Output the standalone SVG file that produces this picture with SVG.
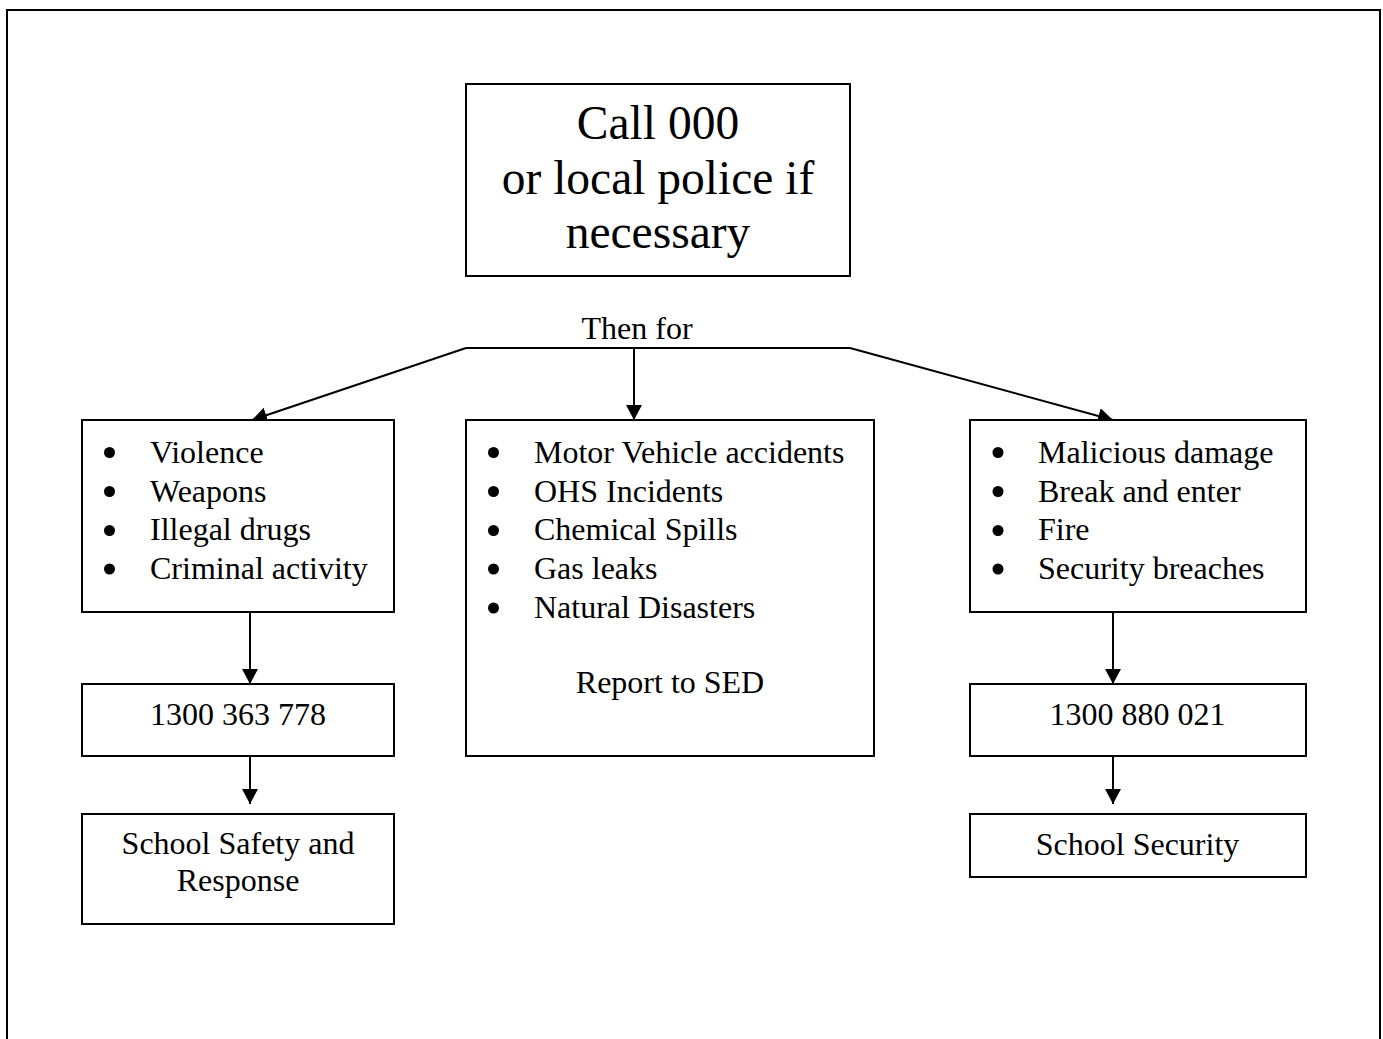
<svg xmlns="http://www.w3.org/2000/svg" width="1383" height="1039" viewBox="0 0 1383 1039">
<style>
  .box { fill: #fff; stroke: #000; stroke-width: 2; }
  .t { font-family: "Liberation Serif", "Times New Roman", serif; font-size: 32px; fill: #000; }
  .big { font-size: 47.5px; }
  .c { text-anchor: middle; }
  .conn { stroke: #000; stroke-width: 2; fill: none; }
  .b { fill: #000; }
</style>
<defs>
  <marker id="ah" markerUnits="userSpaceOnUse" markerWidth="17" markerHeight="17" refX="15" refY="8" orient="auto" viewBox="0 0 17 17">
    <path d="M0,0 L15,8 L0,16 z" fill="#000"/>
  </marker>
</defs>
<rect width="1383" height="1039" fill="#fff"/>
<rect x="7" y="10" width="1373" height="1040" fill="none" stroke="#000" stroke-width="2"/>

<g id="connectors">
  <polyline class="conn" points="466,348 850,348"/>
  <line class="conn" x1="466" y1="348" x2="252" y2="420" marker-end="url(#ah)"/>
  <line class="conn" x1="634" y1="348" x2="634" y2="420" marker-end="url(#ah)"/>
  <line class="conn" x1="850" y1="348" x2="1113" y2="420" marker-end="url(#ah)"/>
  <line class="conn" x1="250" y1="612" x2="250" y2="684" marker-end="url(#ah)"/>
  <line class="conn" x1="250" y1="756" x2="250" y2="804" marker-end="url(#ah)"/>
  <line class="conn" x1="1113" y1="612" x2="1113" y2="684" marker-end="url(#ah)"/>
  <line class="conn" x1="1113" y1="756" x2="1113" y2="804" marker-end="url(#ah)"/>
  <text class="t c" x="637" y="339" font-size="31">Then for</text>
</g>

<g id="call000">
  <rect class="box" x="466" y="84" width="384" height="192"/>
  <text class="t big c" x="658" y="139">Call 000</text>
  <text class="t big c" x="658" y="193.5">or local police if</text>
  <text class="t big c" x="658" y="248">necessary</text>
</g>

<g id="left-list">
  <rect class="box" x="82" y="420" width="312" height="192"/>
  <circle class="b" cx="109.5" cy="452.5" r="5.5"/>
  <circle class="b" cx="109.5" cy="491.5" r="5.5"/>
  <circle class="b" cx="109.5" cy="530.5" r="5.5"/>
  <circle class="b" cx="109.5" cy="569" r="5.5"/>
  <text class="t" x="150" y="462.5">Violence</text>
  <text class="t" x="150" y="501.5">Weapons</text>
  <text class="t" x="150" y="540">Illegal drugs</text>
  <text class="t" x="150" y="578.5">Criminal activity</text>
</g>

<g id="middle-list">
  <rect class="box" x="466" y="420" width="408" height="336"/>
  <circle class="b" cx="493.5" cy="452.5" r="5.5"/>
  <circle class="b" cx="493.5" cy="491.5" r="5.5"/>
  <circle class="b" cx="493.5" cy="530.5" r="5.5"/>
  <circle class="b" cx="493.5" cy="569" r="5.5"/>
  <circle class="b" cx="493.5" cy="608" r="5.5"/>
  <text class="t" x="534" y="462.5">Motor Vehicle accidents</text>
  <text class="t" x="534" y="501.5">OHS Incidents</text>
  <text class="t" x="534" y="540">Chemical Spills</text>
  <text class="t" x="534" y="578.5">Gas leaks</text>
  <text class="t" x="534" y="618">Natural Disasters</text>
  <text class="t c" x="670" y="692.5">Report to SED</text>
</g>

<g id="right-list">
  <rect class="box" x="970" y="420" width="336" height="192"/>
  <circle class="b" cx="998" cy="452.5" r="5.5"/>
  <circle class="b" cx="998" cy="491.5" r="5.5"/>
  <circle class="b" cx="998" cy="530.5" r="5.5"/>
  <circle class="b" cx="998" cy="569" r="5.5"/>
  <text class="t" x="1038" y="462.5">Malicious damage</text>
  <text class="t" x="1038" y="501.5">Break and enter</text>
  <text class="t" x="1038" y="540">Fire</text>
  <text class="t" x="1038" y="578.5">Security breaches</text>
</g>

<g id="left-phone">
  <rect class="box" x="82" y="684" width="312" height="72"/>
  <text class="t c" x="238" y="725">1300 363 778</text>
</g>

<g id="school-safety">
  <rect class="box" x="82" y="814" width="312" height="110"/>
  <text class="t c" x="238" y="853.5">School Safety and</text>
  <text class="t c" x="238" y="891">Response</text>
</g>

<g id="right-phone">
  <rect class="box" x="970" y="684" width="336" height="72"/>
  <text class="t c" x="1137.5" y="725">1300 880 021</text>
</g>

<g id="school-security">
  <rect class="box" x="970" y="814" width="336" height="63"/>
  <text class="t c" x="1137.5" y="855">School Security</text>
</g>
</svg>
